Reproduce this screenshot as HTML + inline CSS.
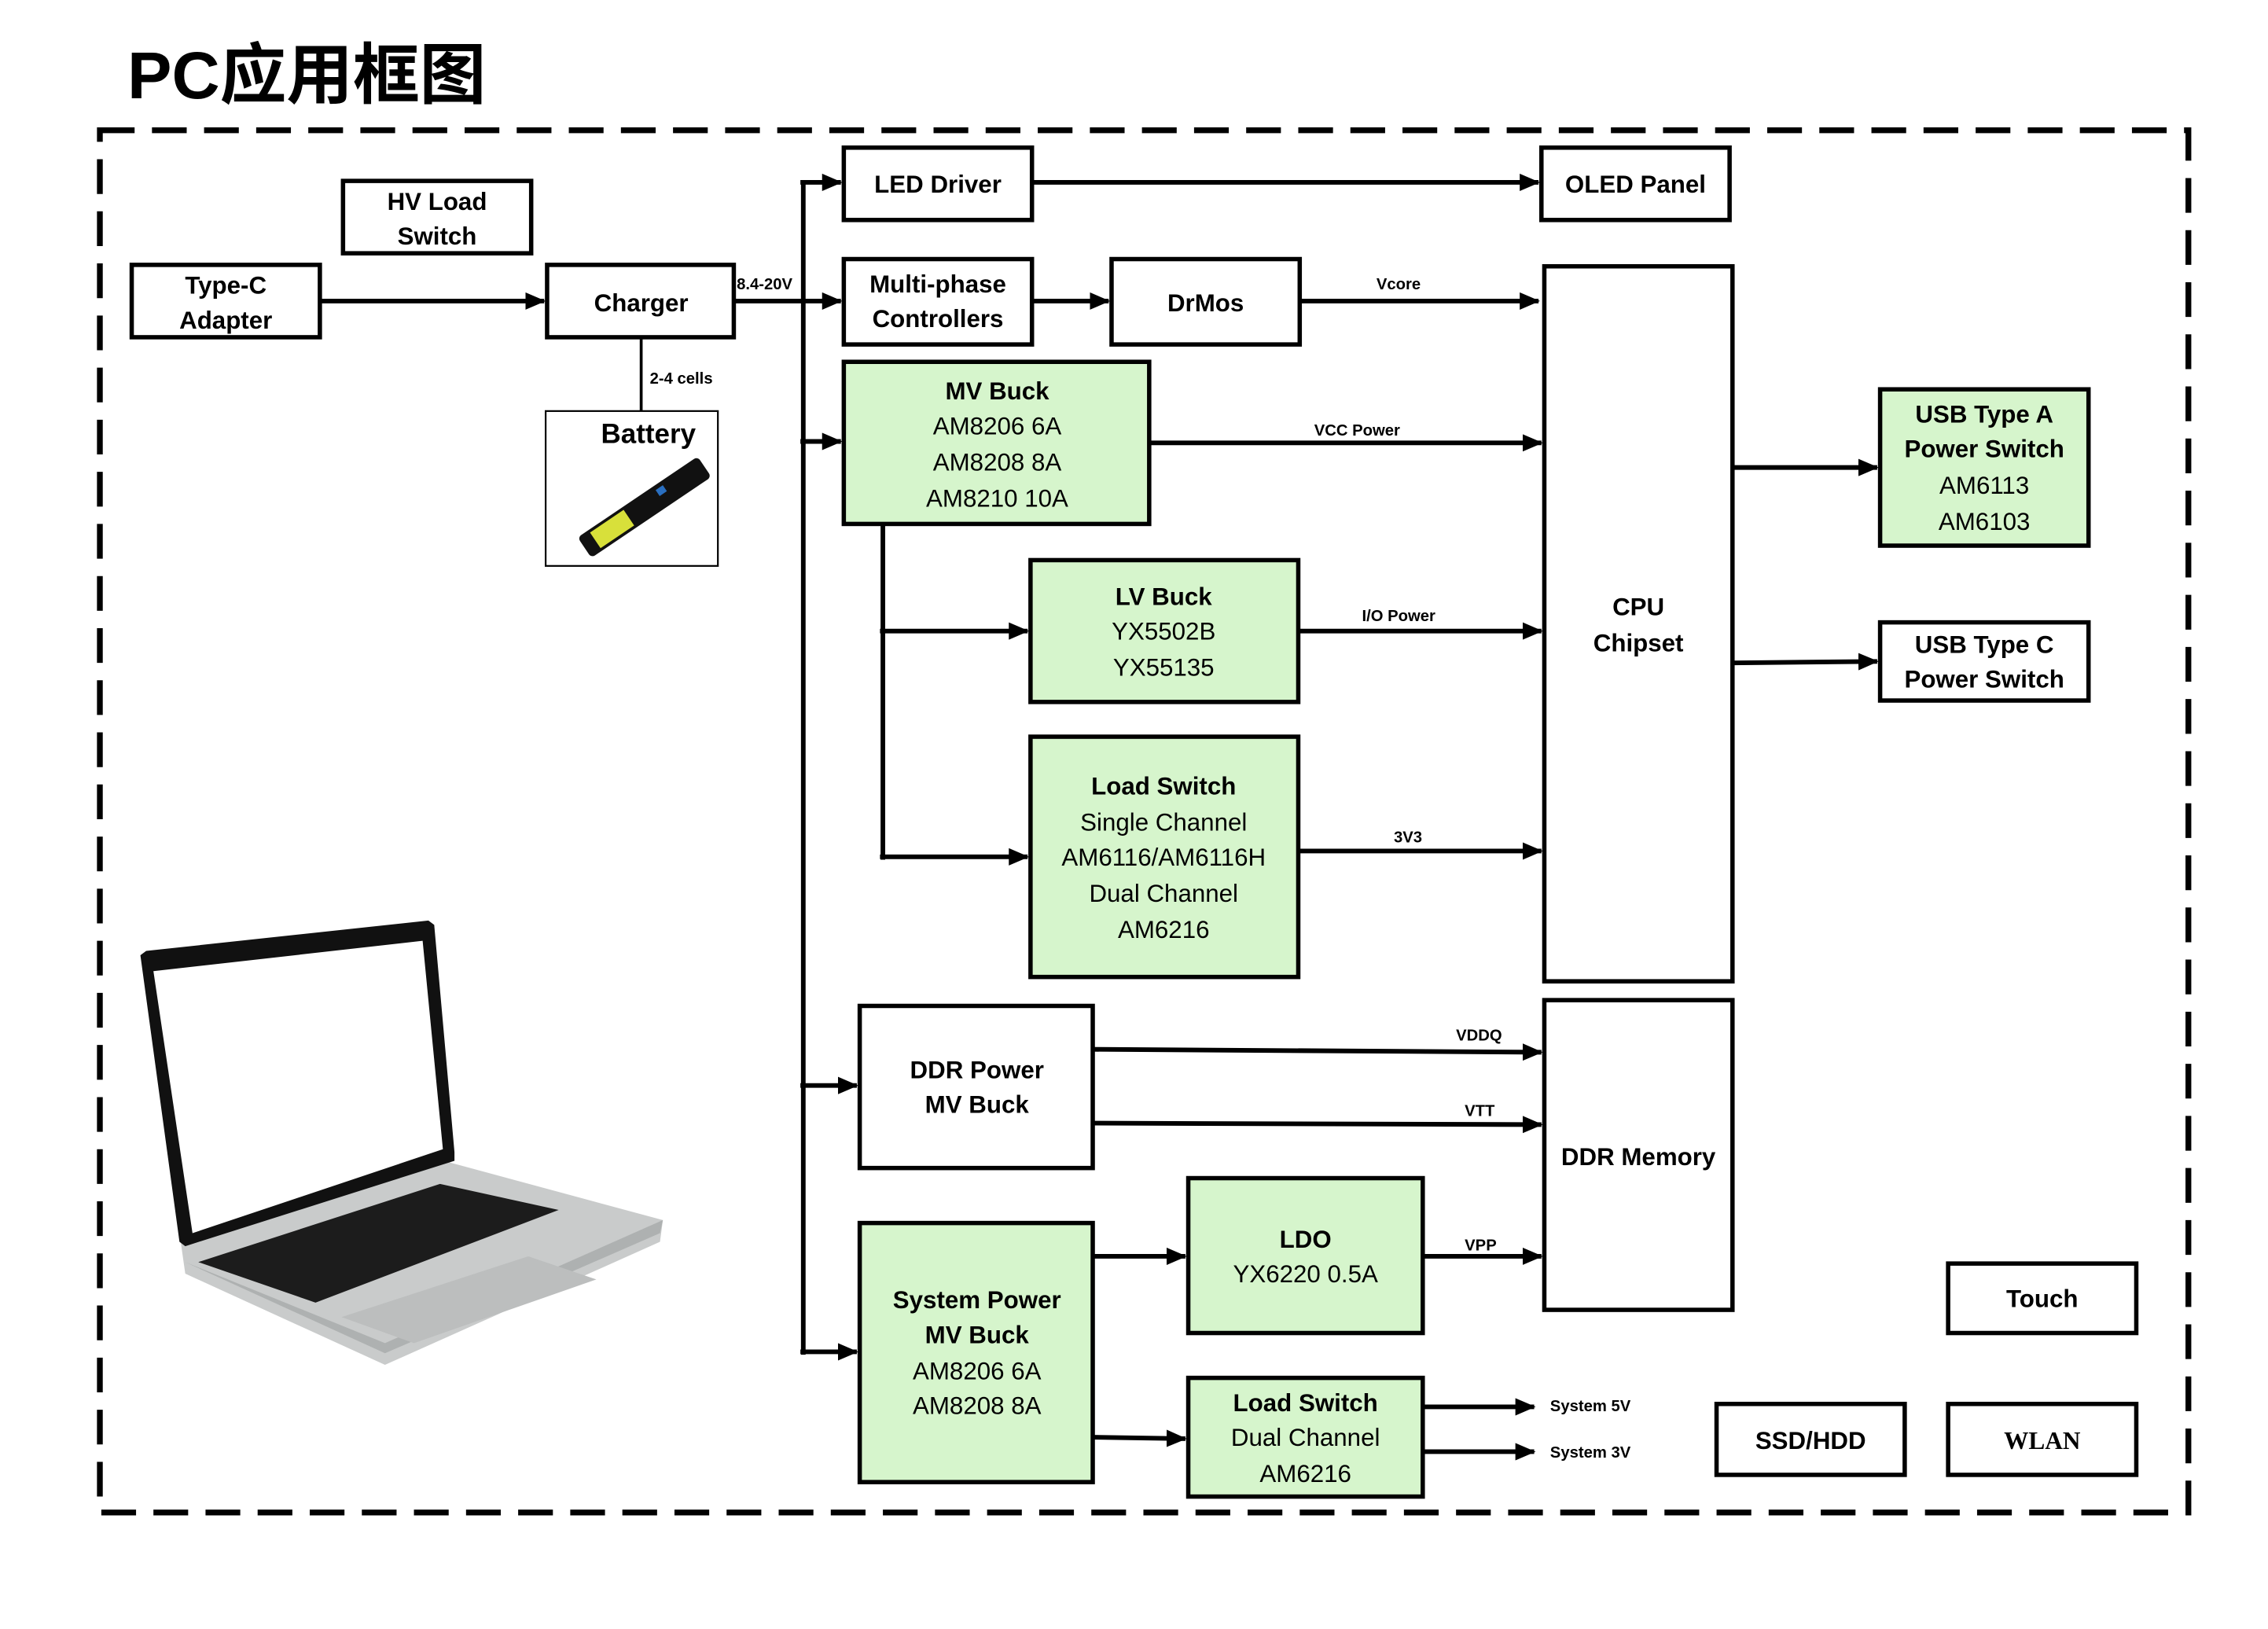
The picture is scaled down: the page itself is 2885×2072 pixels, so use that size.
<!DOCTYPE html>
<html><head><meta charset="utf-8"><style>
html,body{margin:0;padding:0;background:#fff;}
svg{display:block;}
text{font-family:"Liberation Sans","Noto Sans CJK SC",sans-serif;font-weight:bold;fill:#000;}
.b{fill:#fff;stroke:#000;stroke-width:3;}
.g{fill:#d6f5cc;stroke:#000;stroke-width:3;}
.l{stroke:#000;stroke-width:3.2;fill:none;}
.t{font-size:17px;text-anchor:middle;}
.n{font-size:17px;text-anchor:middle;font-weight:normal;}
.s{font-size:11px;}
</style></head><body>
<svg width="2885" height="2072" viewBox="0 0 1567 1125.5" preserveAspectRatio="none">
<defs>
<marker id="a" markerUnits="userSpaceOnUse" markerWidth="14" markerHeight="12" refX="13" refY="6" orient="auto">
<polygon points="0,0 14,6 0,12" fill="#000"/></marker>
</defs>
<text x="88" y="68" style="font-size:46px;font-family:'Liberation Sans','Noto Sans CJK SC',sans-serif;font-weight:bold">PC应用框图</text>
<rect x="69" y="90" width="1443" height="955" fill="none" stroke="#000" stroke-width="4" stroke-dasharray="24,12"/>

<!-- boxes -->
<rect class="b" x="91" y="183" width="130" height="50"/>
<text class="t" x="156" y="203">Type-C</text><text class="t" x="156" y="227">Adapter</text>
<rect class="b" x="237" y="125" width="130" height="50"/>
<text class="t" x="302" y="145">HV Load</text><text class="t" x="302" y="169">Switch</text>
<rect class="b" x="378" y="183" width="129" height="50"/>
<text class="t" x="443" y="215">Charger</text>
<rect x="377" y="284" width="119" height="107" fill="#fff" stroke="#000" stroke-width="1.2"/>
<text class="t" x="448" y="306" style="font-size:19px">Battery</text>
<g transform="rotate(-34 445 350)"><rect x="395" y="342" width="100" height="17" rx="3" fill="#111"/><rect x="404" y="344" width="28" height="13" fill="#d8e03a"/><rect x="458" y="345" width="6" height="5" fill="#2a6fc0"/></g>

<rect class="b" x="583" y="102" width="130" height="50"/>
<text class="t" x="648" y="133">LED Driver</text>
<rect class="b" x="1065" y="102" width="130" height="50"/>
<text class="t" x="1130" y="133">OLED Panel</text>
<rect class="b" x="583" y="179" width="130" height="59"/>
<text class="t" x="648" y="202">Multi-phase</text><text class="t" x="648" y="226">Controllers</text>
<rect class="b" x="768" y="179" width="130" height="59"/>
<text class="t" x="833" y="215">DrMos</text>

<rect class="g" x="583" y="250" width="211" height="112"/>
<text class="t" x="689" y="276">MV Buck</text>
<text class="n" x="689" y="300">AM8206 6A</text><text class="n" x="689" y="325">AM8208 8A</text><text class="n" x="689" y="350">AM8210 10A</text>

<rect class="b" x="1067" y="184" width="130" height="494"/>
<text class="t" x="1132" y="425">CPU</text><text class="t" x="1132" y="450">Chipset</text>

<rect class="g" x="712" y="387" width="185" height="98"/>
<text class="t" x="804" y="418">LV Buck</text><text class="n" x="804" y="442">YX5502B</text><text class="n" x="804" y="467">YX55135</text>

<rect class="g" x="712" y="509" width="185" height="166"/>
<text class="t" x="804" y="549">Load Switch</text><text class="n" x="804" y="574">Single Channel</text><text class="n" x="804" y="598">AM6116/AM6116H</text><text class="n" x="804" y="623">Dual Channel</text><text class="n" x="804" y="648">AM6216</text>

<rect class="g" x="1299" y="269" width="144" height="108"/>
<text class="t" x="1371" y="292">USB Type A</text><text class="t" x="1371" y="316">Power Switch</text><text class="n" x="1371" y="341">AM6113</text><text class="n" x="1371" y="366">AM6103</text>
<rect class="b" x="1299" y="430" width="144" height="54"/>
<text class="t" x="1371" y="451">USB Type C</text><text class="t" x="1371" y="475">Power Switch</text>

<rect class="b" x="594" y="695" width="161" height="112"/>
<text class="t" x="675" y="745">DDR Power</text><text class="t" x="675" y="769">MV Buck</text>
<rect class="b" x="1067" y="691" width="130" height="214"/>
<text class="t" x="1132" y="805">DDR Memory</text>

<rect class="g" x="594" y="845" width="161" height="179"/>
<text class="t" x="675" y="904">System Power</text><text class="t" x="675" y="928">MV Buck</text><text class="n" x="675" y="953">AM8206 6A</text><text class="n" x="675" y="977">AM8208 8A</text>

<rect class="g" x="821" y="814" width="162" height="107"/>
<text class="t" x="902" y="862">LDO</text><text class="n" x="902" y="886">YX6220 0.5A</text>
<rect class="g" x="821" y="952" width="162" height="82"/>
<text class="t" x="902" y="975">Load Switch</text><text class="n" x="902" y="999">Dual Channel</text><text class="n" x="902" y="1024">AM6216</text>

<rect class="b" x="1346" y="873" width="130" height="48"/>
<text class="t" x="1411" y="903">Touch</text>
<rect class="b" x="1186" y="970" width="130" height="49"/>
<text class="t" x="1251" y="1001">SSD/HDD</text>
<rect class="b" x="1346" y="970" width="130" height="49"/>
<text class="t" x="1411" y="1001" style="font-family:'Liberation Serif',serif">WLAN</text>

<!-- connectors -->
<line class="l" x1="221" y1="208" x2="376" y2="208" marker-end="url(#a)"/>
<line class="l" x1="507" y1="208" x2="581" y2="208" marker-end="url(#a)"/>
<text class="s" x="509" y="200">8.4-20V</text>
<line class="l" x1="443" y1="233" x2="443" y2="284" style="stroke-width:2"/>
<text class="s" x="449" y="265">2-4 cells</text>
<line class="l" x1="555" y1="126" x2="555" y2="936"/>
<line class="l" x1="553" y1="126" x2="581" y2="126" marker-end="url(#a)"/>
<line class="l" x1="553" y1="305" x2="581" y2="305" marker-end="url(#a)"/>
<line class="l" x1="553" y1="750" x2="592" y2="750" marker-end="url(#a)"/>
<line class="l" x1="553" y1="934" x2="592" y2="934" marker-end="url(#a)"/>
<line class="l" x1="713" y1="126" x2="1063" y2="126" marker-end="url(#a)"/>
<line class="l" x1="713" y1="208" x2="766" y2="208" marker-end="url(#a)"/>
<line class="l" x1="898" y1="208" x2="1063" y2="208" marker-end="url(#a)"/>
<text class="s" x="951" y="200">Vcore</text>
<line class="l" x1="794" y1="306" x2="1065" y2="306" marker-end="url(#a)"/>
<text class="s" x="908" y="301">VCC Power</text>
<line class="l" x1="610" y1="362" x2="610" y2="594"/>
<line class="l" x1="608" y1="436" x2="710" y2="436" marker-end="url(#a)"/>
<line class="l" x1="608" y1="592" x2="710" y2="592" marker-end="url(#a)"/>
<line class="l" x1="897" y1="436" x2="1065" y2="436" marker-end="url(#a)"/>
<text class="s" x="941" y="429">I/O Power</text>
<line class="l" x1="897" y1="588" x2="1065" y2="588" marker-end="url(#a)"/>
<text class="s" x="963" y="582">3V3</text>
<line class="l" x1="1197" y1="323" x2="1297" y2="323" marker-end="url(#a)"/>
<line class="l" x1="1197" y1="458" x2="1297" y2="457" marker-end="url(#a)"/>
<line class="l" x1="755" y1="725" x2="1065" y2="727" marker-end="url(#a)"/>
<text class="s" x="1006" y="719">VDDQ</text>
<line class="l" x1="755" y1="776" x2="1065" y2="777" marker-end="url(#a)"/>
<text class="s" x="1012" y="771">VTT</text>
<line class="l" x1="755" y1="868" x2="819" y2="868" marker-end="url(#a)"/>
<line class="l" x1="983" y1="868" x2="1065" y2="868" marker-end="url(#a)"/>
<text class="s" x="1012" y="864">VPP</text>
<line class="l" x1="755" y1="993" x2="819" y2="994" marker-end="url(#a)"/>
<line class="l" x1="983" y1="972" x2="1060" y2="972" marker-end="url(#a)"/>
<line class="l" x1="983" y1="1003" x2="1060" y2="1003" marker-end="url(#a)"/>
<text class="s" x="1071" y="975">System 5V</text>
<text class="s" x="1071" y="1007">System 3V</text>

<!-- laptop -->
<polygon points="125,859 299,800 458,843 456,858 266,943 128,880" fill="#c9cbcb"/>
<polygon points="128,872 266,935 456,852 458,843 266,928" fill="#aeb1b1"/>
<polygon points="137,872 304,818 386,836 218,900" fill="#1c1c1c"/>
<polygon points="236,910 365,868 412,884 286,928" fill="#bcbebe"/>
<polygon points="97,660 101,657 296,636 300,639 314,796 314,802 128,861 124,858" fill="#111"/>
<polygon points="106,671 292,650 306,794 133,852" fill="#fff"/>
</svg>
</body></html>
